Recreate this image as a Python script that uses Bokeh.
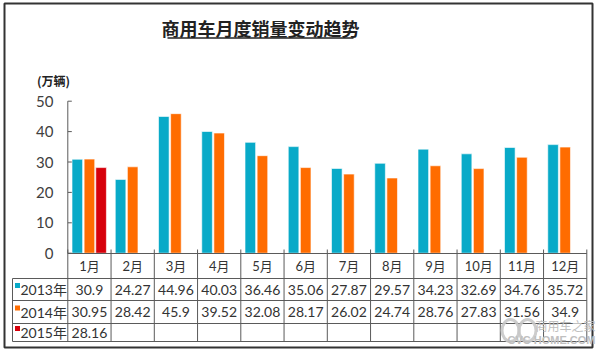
from bokeh.plotting import figure
from bokeh.models import Range1d
from bokeh.core.properties import value
from bokeh.embed import file_html
from bokeh.resources import INLINE

# ---------------- data ----------------
months = ["1月", "2月", "3月", "4月", "5月", "6月", "7月", "8月", "9月", "10月", "11月", "12月"]
series_names = ["2013年", "2014年", "2015年"]
y2013 = [30.9, 24.27, 44.96, 40.03, 36.46, 35.06, 27.87, 29.57, 34.23, 32.69, 34.76, 35.72]
y2014 = [30.95, 28.42, 45.9, 39.52, 32.08, 28.17, 26.02, 24.74, 28.76, 27.83, 31.56, 34.9]
y2015 = [28.16]
y_ticks = [0, 10, 20, 30, 40, 50]
title = "商用车月度销量变动趋势"
unit_label = "(万辆)"

# ---------------- layout helpers (pixel -> data) ----------------
W, H = 600, 353
X0, CW = 67.3, 43.25      # pixel x of first category edge, category width
Y0, S = 252.7, 3.04       # pixel y of value 0, pixels per unit


def dx(px):
    return (px - X0) / CW


def dy(py):
    return (Y0 - py) / S


COL = ["#08AAC8", "#FF6C00", "#D6000B"]
CJK = "Noto Sans CJK SC"
NUM = "Lato, Noto Sans CJK SC"
LINE = "#5a5a5a"
TXT = "#333333"

p = figure(width=W, height=H, x_range=Range1d(dx(0), dx(W)), y_range=Range1d(dy(H), dy(0)),
           output_backend="svg", toolbar_location=None, min_border=0,
           x_axis_type=None, y_axis_type=None)
p.outline_line_color = None
p.background_fill_color = "white"
p.border_fill_color = "white"

# outer frame
p.quad(left=[dx(4)], right=[dx(592)], bottom=[dy(347)], top=[dy(3)],
       fill_color=None, line_color="#333333", line_width=2)

# title with underline
p.text(x=[dx(260)], y=[dy(27)], text=[title], text_font=value(CJK), text_font_style="bold",
       text_font_size="18px", text_align="center", text_baseline="middle", text_color="#222222")
p.segment(x0=[dx(167)], y0=[dy(37.5)], x1=[dx(353)], y1=[dy(37.5)], line_color="#222222", line_width=1.5)

# unit label
p.text(x=[dx(53)], y=[dy(80)], text=[unit_label], text_font=value(CJK), text_font_style="bold",
       text_font_size="12px", text_align="center", text_baseline="middle", text_color="#222222")

# bars
n = len(months)
centers = [i + 0.5 for i in range(n)]
bw = 0.245
offs = [-0.28, 0.0, 0.27]
for vals, col, off in zip([y2013, y2014, y2015], COL, offs):
    xs = [centers[i] + off for i in range(len(vals))]
    p.vbar(x=xs, top=vals, bottom=0, width=bw, fill_color=col, line_color="#ffffff", line_width=0.6)

# y axis
p.segment(x0=[0], y0=[0], x1=[0], y1=[max(y_ticks)], line_color=LINE, line_width=1)
p.segment(x0=[0] * len(y_ticks), y0=y_ticks, x1=[dx(X0 + 4)] * len(y_ticks), y1=y_ticks,
          line_color=LINE, line_width=1)
p.text(x=[dx(53)] * len(y_ticks), y=y_ticks, text=[str(t) for t in y_ticks], text_font=value(NUM),
       text_font_size="15px", text_align="right", text_baseline="middle", text_color="#404040")

# ---------------- data table ----------------
rows = [dy(253), dy(278), dy(300), dy(323), dy(341)]   # month row, 2013, 2014, 2015
left_hdr = dx(12)

# horizontal lines
p.segment(x0=[0], y0=[rows[0]], x1=[n], y1=[rows[0]], line_color=LINE, line_width=1)
p.segment(x0=[left_hdr] * 4, y0=rows[1:], x1=[n] * 4, y1=rows[1:], line_color=LINE, line_width=1)
# vertical lines
p.segment(x0=list(range(n + 1)), y0=[dy(249)] * (n + 1), x1=list(range(n + 1)), y1=[rows[-1]] * (n + 1),
          line_color=LINE, line_width=1)
p.segment(x0=[left_hdr], y0=[rows[1]], x1=[left_hdr], y1=[rows[-1]], line_color=LINE, line_width=1)

# month header
p.text(x=centers, y=[(rows[0] + rows[1]) / 2] * n, text=months, text_font=value(NUM),
       text_font_size="13px", text_align="center", text_baseline="middle", text_color=TXT)

# row labels + markers + values
for r, (name, vals, col) in enumerate(zip(series_names, [y2013, y2014, y2015], COL)):
    yc = (rows[r + 1] + rows[r + 2]) / 2
    p.scatter(x=[dx(17)], y=[yc + 4 / S], marker="square", size=5, fill_color=col, line_color=None)
    p.text(x=[dx(20)], y=[yc], text=[name], text_font=value(NUM), text_font_size="14px",
           text_align="left", text_baseline="middle", text_color=TXT)
    p.text(x=centers[:len(vals)], y=[yc] * len(vals), text=[f"{v:g}" for v in vals], text_font=value(NUM),
           text_font_size="14px", text_align="center", text_baseline="middle", text_color=TXT)

# watermark
p.ellipse(x=[dx(510), dx(527)], y=[dy(330), dy(330)], width=[17 / CW] * 2, height=[22 / S] * 2,
          fill_color=None, line_color="#c8c8c8", line_width=3, line_alpha=0.9)
p.text(x=[dx(565)], y=[dy(325)], text=["商用车之家"], text_font=value(CJK), text_font_size="12px",
       text_align="center", text_baseline="middle", text_color="#c0c0c0")
p.text(x=[dx(551)], y=[dy(339)], text=["CVC HOME.COM"], text_font=value("Liberation Sans"),
       text_font_size="11px", text_font_style="bold", text_align="center", text_baseline="middle",
       text_color="#c0c0c0")

open("out.html", "w").write(file_html(p, INLINE))
